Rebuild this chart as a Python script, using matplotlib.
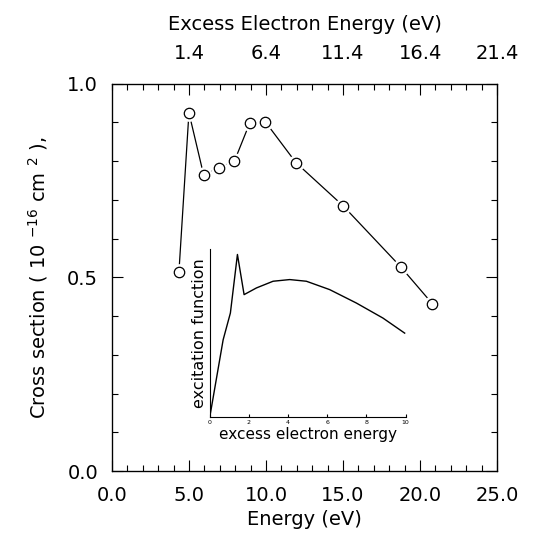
import matplotlib
matplotlib.use('Agg')
import matplotlib.pyplot as plt
from matplotlib.ticker import MultipleLocator

# main data: cross section vs energy
energy = [4.35, 5.0, 5.95, 6.95, 7.95, 8.95, 9.95, 11.95, 15.0, 18.75, 20.8]
cross = [0.514, 0.925, 0.765, 0.783, 0.80, 0.899, 0.902, 0.796, 0.685, 0.527, 0.432]

# top axis labels (excess electron energy)
top_ticks = [5, 10, 15, 20, 25]
top_labels = ['1.4', '6.4', '11.4', '16.4', '21.4']

# inset: excitation function
ex_energy = [0, 0.68, 1.05, 1.41, 1.75, 2.38, 3.23, 4.08, 4.93, 6.12, 7.48, 8.84, 9.95]
ex_func = [0, 0.46, 0.62, 0.97, 0.73, 0.77, 0.81, 0.82, 0.81, 0.76, 0.68, 0.59, 0.50]

plt.rcParams['font.family'] = ['DejaVu Sans']
fig = plt.figure(figsize=(5.38, 5.33), dpi=100)
ax = fig.add_axes([0.208, 0.116, 0.716, 0.727])

ax.plot(energy, cross, color='black', lw=0.9, zorder=2)
ax.plot(energy, cross, 'o', ms=11, mfc='white', mec='white', zorder=3)
ax.plot(energy, cross, 'o', ms=7.5, mfc='white', mec='black', mew=0.9, zorder=4)

ax.set_xlim(0, 25)
ax.set_ylim(0, 1.0)
ax.xaxis.set_major_locator(MultipleLocator(5))
ax.xaxis.set_minor_locator(MultipleLocator(1))
ax.yaxis.set_major_locator(MultipleLocator(0.5))
ax.yaxis.set_minor_locator(MultipleLocator(0.1))
ax.xaxis.set_major_formatter(plt.FormatStrFormatter('%.1f'))
ax.yaxis.set_major_formatter(plt.FormatStrFormatter('%.1f'))
ax.tick_params(which='both', direction='in', right=True, labelsize=14, width=0.8)
ax.tick_params(axis='x', which='major', length=8, pad=11)
ax.tick_params(axis='y', which='major', length=8, pad=10)
ax.tick_params(which='minor', length=4)
for s in ax.spines.values():
    s.set_linewidth(0.9)
ax.set_xlabel('Energy (eV)', fontsize=14, labelpad=3)
ax.set_ylabel('Cross section ( 10 $^{-16}$ cm $^{2}$ ),', fontsize=14, labelpad=12)

ax2 = ax.twiny()
ax2.set_xlim(0, 25)
ax2.set_xticks(top_ticks)
ax2.set_xticklabels(top_labels)
ax2.xaxis.set_minor_locator(MultipleLocator(1))
ax2.tick_params(which='both', direction='in', labelsize=14, width=0.8, pad=15)
ax2.tick_params(which='major', length=8)
ax2.tick_params(which='minor', length=4)
ax2.set_xlabel('Excess Electron Energy (eV)', fontsize=14, labelpad=10)

# inset
ins = fig.add_axes([0.390, 0.218, 0.364, 0.314])
ins.plot(ex_energy, ex_func, color='black', lw=1.0)
ins.set_xlim(0, 10)
ins.set_ylim(0, 1.0)
ins.spines['top'].set_visible(False)
ins.spines['right'].set_visible(False)
ins.set_xticks([0, 2, 4, 6, 8, 10])
ins.set_yticks([])
ins.tick_params(axis='x', direction='in', length=2, labelsize=4.5, pad=2)
ins.set_xlabel('excess electron energy', fontsize=11, labelpad=2)
ins.set_ylabel('excitation function', fontsize=11.5, labelpad=2)
ins.patch.set_alpha(0)

fig.savefig('out.png', dpi=100)
